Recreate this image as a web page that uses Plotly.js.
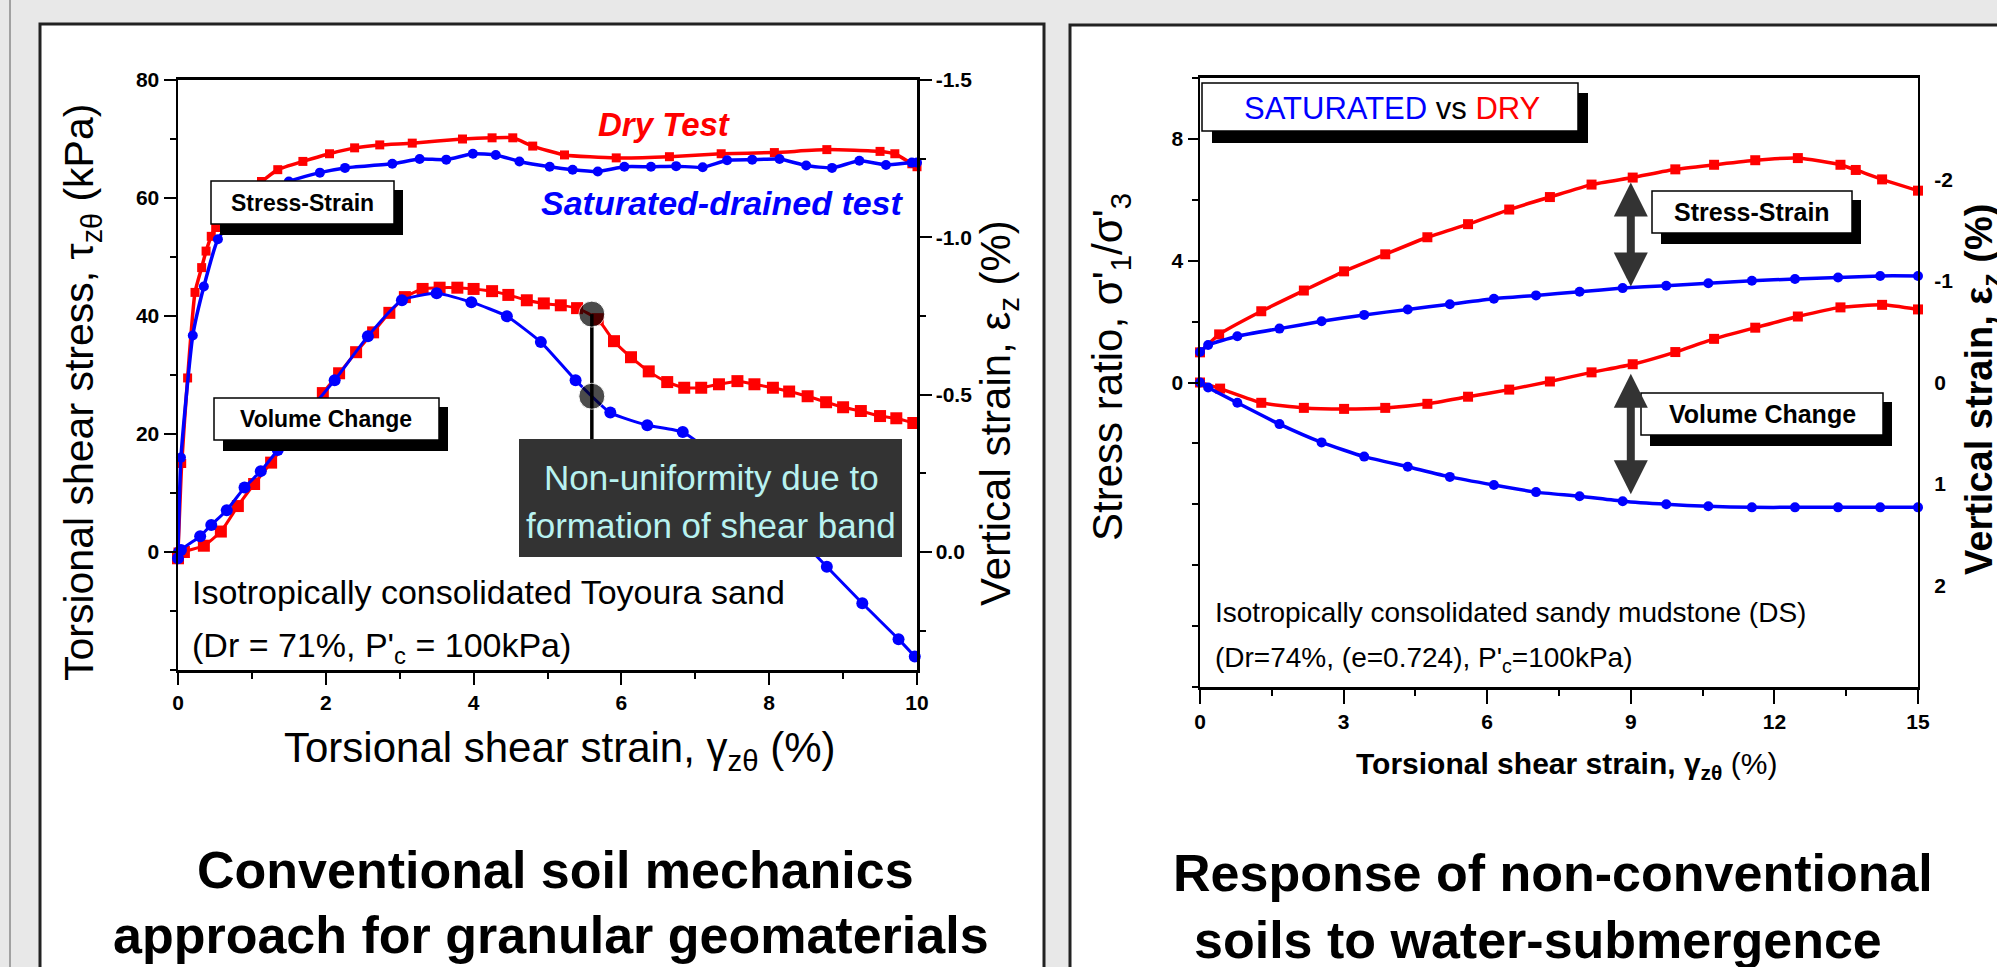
<!DOCTYPE html>
<html>
<head>
<meta charset="utf-8">
<script src="https://cdn.plot.ly/plotly-3.0.1.min.js"></script>
<style>html,body{margin:0;padding:0;background:#e8e8e8;}#chart{width:1997px;height:967px;}</style>
</head>
<body>
<div id="chart"></div>
<script>
// ---------------- DATA ----------------
// Left panel: Toyoura sand, torsional shear (x = shear strain %, tau = kPa)
const dryTauX = [0, 0.05, 0.13, 0.23, 0.32, 0.38, 0.45, 0.51, 0.7, 0.9, 1.13, 1.35, 1.69, 2.05, 2.39, 2.73, 3.17, 3.85, 4.25, 4.53, 4.8, 5.23, 5.93, 6.65, 7.35, 8.07, 8.78, 9.5, 9.7, 9.93, 10];
const dryTau  = [0, 15, 29.5, 44, 48.2, 51, 53.5, 55, 58.5, 61, 62.8, 64.8, 66.2, 67.5, 68.5, 69, 69.3, 70, 70.2, 70.2, 68.8, 67.3, 66.8, 67.0, 67.5, 67.7, 68.2, 67.9, 67.5, 65.8, 65.3];
const satTauX = [0, 0.04, 0.2, 0.35, 0.54, 0.75, 1.0, 1.25, 1.5, 1.92, 2.26, 2.9, 3.27, 3.63, 3.99, 4.3, 4.62, 5.03, 5.34, 5.68, 6.04, 6.4, 6.74, 7.1, 7.43, 7.77, 8.14, 8.5, 8.85, 9.22, 9.58, 9.93, 10];
const satTau  = [0, 16, 36.7, 45, 53, 56.5, 59.5, 61.5, 62.8, 64.3, 65.1, 65.8, 66.6, 66.5, 67.5, 67.3, 66.2, 65.3, 64.8, 64.5, 65.3, 65.3, 65.4, 65.2, 66.4, 66.5, 66.6, 65.5, 65.1, 66.3, 65.6, 66.0, 66.0];
// Left panel: vertical strain (%)
const dryEzX = [0, 0.08, 0.35, 0.58, 0.81, 1.03, 1.26, 1.5, 1.75, 1.96, 2.18, 2.41, 2.64, 2.86, 3.07, 3.31, 3.54, 3.78, 4.0, 4.25, 4.47, 4.72, 4.95, 5.18, 5.4, 5.68, 5.9, 6.13, 6.37, 6.62, 6.85, 7.08, 7.32, 7.57, 7.8, 8.05, 8.27, 8.52, 8.77, 9.0, 9.24, 9.5, 9.72, 9.95];
const dryEz  = [0.02, 0, -0.02, -0.065, -0.146, -0.216, -0.284, -0.36, -0.435, -0.505, -0.568, -0.635, -0.698, -0.76, -0.81, -0.836, -0.84, -0.84, -0.836, -0.829, -0.817, -0.8, -0.79, -0.784, -0.775, -0.74, -0.67, -0.619, -0.574, -0.54, -0.522, -0.522, -0.533, -0.543, -0.533, -0.522, -0.51, -0.495, -0.476, -0.46, -0.448, -0.432, -0.425, -0.41];
const satEzX = [0, 0.04, 0.3, 0.45, 0.66, 0.9, 1.12, 1.35, 1.6, 1.85, 2.12, 2.57, 3.03, 3.5, 3.97, 4.45, 4.91, 5.38, 5.85, 6.35, 6.83, 7.3, 7.8, 8.3, 8.78, 9.26, 9.75, 9.97];
const satEz  = [0.02, -0.006, -0.05, -0.086, -0.133, -0.205, -0.257, -0.324, -0.4, -0.47, -0.546, -0.686, -0.8, -0.822, -0.794, -0.749, -0.667, -0.546, -0.443, -0.403, -0.381, -0.3, -0.18, -0.07, 0.047, 0.163, 0.277, 0.332];
// Shear-band indicator points (x %, vertical strain %)
const bandX  = [5.6, 5.6, 5.6];
const bandEz = [-0.756, -0.495, -0.30];

// Right panel: sandy mudstone
const dryRatioX = [0, 0.4, 1.28, 2.17, 3.01, 3.87, 4.75, 5.6, 6.46, 7.31, 8.18, 9.04, 9.93, 10.74, 11.6, 12.49, 13.38, 13.7, 14.25, 15];
const dryRatio  = [0.99, 1.58, 2.34, 3.02, 3.65, 4.21, 4.77, 5.2, 5.68, 6.09, 6.5, 6.73, 7.0, 7.15, 7.3, 7.37, 7.15, 6.98, 6.67, 6.3];
const satRatioX = [0, 0.17, 0.78, 1.66, 2.54, 3.43, 4.34, 5.22, 6.14, 7.02, 7.93, 8.83, 9.74, 10.62, 11.53, 12.43, 13.33, 14.21, 15];
const satRatio  = [1.0, 1.23, 1.52, 1.77, 2.01, 2.22, 2.4, 2.57, 2.75, 2.86, 2.98, 3.1, 3.18, 3.26, 3.34, 3.4, 3.45, 3.5, 3.5];
const dryVzX = [0, 0.42, 1.28, 2.17, 3.01, 3.87, 4.75, 5.6, 6.46, 7.31, 8.18, 9.04, 9.93, 10.74, 11.6, 12.49, 13.38, 14.25, 15];
const dryVz  = [0, 0.06, 0.2, 0.25, 0.26, 0.25, 0.21, 0.14, 0.07, -0.01, -0.1, -0.18, -0.3, -0.43, -0.54, -0.65, -0.74, -0.765, -0.72];
const satVzX = [0, 0.17, 0.78, 1.66, 2.54, 3.43, 4.34, 5.22, 6.14, 7.02, 7.93, 8.83, 9.74, 10.62, 11.53, 12.43, 13.33, 14.21, 15];
const satVz  = [0, 0.05, 0.2, 0.41, 0.59, 0.73, 0.83, 0.93, 1.01, 1.08, 1.12, 1.17, 1.2, 1.22, 1.23, 1.23, 1.23, 1.23, 1.23];
// Arrow endpoints (x %, values)
const gapArrowX = [9, 9];
const gapRatio  = [3.15, 6.62];
const gapVz     = [1.1, -0.1];

// Tick labels
const leftXTicks = [0, 2, 4, 6, 8, 10];
const leftTauTicks = [0, 20, 40, 60, 80];
const leftEzTickVals = [-1.5, -1.0, -0.5, 0];
const leftEzTickText = ['-1.5', '-1.0', '-0.5', '0.0'];
const rightXTicks = [0, 3, 6, 9, 12, 15];
const rightRatioTicks = [0, 4, 8];
const rightEzTickVals = [-2, -1, 0, 1, 2];
const rightEzTickText = ['-2', '-1', '0', '1', '2'];

// ---------------- STYLE ----------------
const W = 1997, H = 967;
const F = 'Liberation Sans, Arial, Helvetica, sans-serif';
const RED = '#ff0000', BLUE = '#0000ff';
const px = v => v / W;
const py = v => 1 - v / H;

function curve(x, y, xa, ya, color, symbol, msize, lw) {
  return {x, y, xaxis: xa, yaxis: ya, type: 'scatter', mode: 'lines+markers', cliponaxis: false,
    line: {color, width: lw, shape: 'spline', smoothing: 0.5},
    marker: {color, symbol, size: msize}, hoverinfo: 'skip'};
}

const data = [
  curve(dryTauX, dryTau, 'x', 'y', RED, 'square', 9, 3.5),
  curve(satTauX, satTau, 'x', 'y', BLUE, 'circle', 10, 3.5),
  curve(dryEzX, dryEz, 'x', 'y2', RED, 'square', 12, 3),
  curve(satEzX, satEz, 'x', 'y2', BLUE, 'circle', 12, 3),
  {x: bandX, y: bandEz, xaxis: 'x', yaxis: 'y2', type: 'scatter', mode: 'lines+markers', cliponaxis: false,
   line: {color: '#000', width: 3.5}, marker: {color: '#000', size: [26, 26, 0]}, hoverinfo: 'skip'},
  curve(dryRatioX, dryRatio, 'x2', 'y3', RED, 'square', 10, 3.5),
  curve(satRatioX, satRatio, 'x2', 'y3', BLUE, 'circle', 10, 3.5),
  curve(dryVzX, dryVz, 'x2', 'y4', RED, 'square', 10, 3.5),
  curve(satVzX, satVz, 'x2', 'y4', BLUE, 'circle', 10, 3.5)
];

const tickFont = {family: F, size: 21, color: '#000', weight: 'bold'};
function ax(extra) {
  return Object.assign({showgrid: false, zeroline: false, showline: true, linecolor: '#000', linewidth: 2.5,
    ticks: 'outside', ticklen: 12, tickwidth: 2, tickcolor: '#000', tickfont: tickFont, fixedrange: true}, extra);
}
const minorT = d => ({dtick: d, tick0: 0, ticks: 'outside', ticklen: 6, tickwidth: 2, tickcolor: '#000'});

function rect(x0, y0, x1, y1, fill, lc, lw, layer) {
  return {type: 'rect', xref: 'paper', yref: 'paper', x0: px(x0), x1: px(x1), y0: py(y0), y1: py(y1),
    fillcolor: fill, line: {color: lc, width: lw}, layer: layer || 'above'};
}
function box(x0, y0, x1, y1, off) {
  return [rect(x0 + off, y0 + off, x1 + off, y1 + off + 2, '#000', '#000', 0),
          rect(x0, y0, x1, y1, '#fff', '#000', 1.5)];
}
function ann(text, x, y, size, o) {
  return Object.assign({xref: 'paper', yref: 'paper', x: px(x), y: py(y), text, showarrow: false,
    xanchor: 'center', yanchor: 'middle', font: {family: F, size, color: '#000'}}, o || {});
}

const shapes = [
  {type: 'line', xref: 'paper', yref: 'paper', x0: px(10), x1: px(10), y0: 0, y1: 1, line: {color: '#8a8a8a', width: 1.5}, layer: 'below'},
  rect(40, 24, 1044, 990, '#fff', '#222', 3, 'below'),
  rect(1070, 25, 2030, 990, '#fff', '#222', 3, 'below'),
  ...box(211, 181, 394, 224, 9),
  ...box(214, 398, 439, 440, 9),
  rect(519, 439, 902, 557, '#333333', '#333333', 0),
  ...box(1202, 83, 1578, 131, 10),
  ...box(1652, 191, 1852, 233, 9),
  ...box(1641, 393, 1883, 435, 9)
];

function arrow(xa, ya, x, y0, y1) {
  return {xref: xa, yref: ya, axref: xa, ayref: ya, x: x, y: y0, ax: x, ay: y1, text: '', showarrow: true,
    arrowhead: 2, startarrowhead: 2, arrowside: 'end+start', arrowsize: 0.85, startarrowsize: 0.85,
    arrowwidth: 8, arrowcolor: '#333333'};
}

const annotations = [
  // left panel
  ann('<i><b>Dry Test</b></i>', 664, 125, 33, {font: {family: F, size: 33, color: RED}}),
  ann('<i><b>Saturated-drained test</b></i>', 722, 203, 34, {font: {family: F, size: 34, color: BLUE}}),
  ann('<b>Stress-Strain</b>', 302, 203, 23),
  ann('<b>Volume Change</b>', 326, 419, 23),
  ann('Non-uniformity due to', 711, 477, 35, {font: {family: F, size: 35, color: '#b8f2f0'}}),
  ann('formation of shear band', 711, 525, 35, {font: {family: F, size: 35, color: '#b8f2f0'}}),
  ann('Isotropically consolidated Toyoura sand', 190, 592, 34, {xanchor: 'left'}),
  ann("(Dr = 71%, P'<sub>c</sub> = 100kPa)", 190, 647, 34, {xanchor: 'left'}),
  ann('Torsional shear stress, τ<sub>zθ</sub> (kPa)', 82, 393, 41, {textangle: -90}),
  ann('Vertical strain, ε<sub>z</sub> (%)', 998, 413, 42, {textangle: -90}),
  ann('Torsional shear strain, γ<sub>zθ</sub> (%)', 560, 750, 42),
  ann('<b>Conventional soil mechanics</b>', 555, 870, 52),
  ann('<b>approach for granular geomaterials</b>', 551, 935, 52),
  // right panel
  ann('<span style="color:#0000ff">SATURATED</span> vs <span style="color:#ff0000">DRY</span>', 1392, 108, 31),
  ann('<b>Stress-Strain</b>', 1752, 212, 25),
  ann('<b>Volume Change</b>', 1762, 414, 25),
  ann('Isotropically consolidated sandy mudstone (DS)', 1213, 612, 28, {xanchor: 'left'}),
  ann("(Dr=74%, (e=0.724), P'<sub>c</sub>=100kPa)", 1213, 659, 28, {xanchor: 'left'}),
  ann("Stress ratio, σ'<sub>1</sub>/σ'<sub>3</sub>", 1110, 367, 42, {textangle: -90}),
  ann('<b>Vertical strain, ε<sub>z</sub> (%)</b>', 1982, 390, 38, {textangle: -90}),
  ann('<b>Torsional shear strain, γ<sub>zθ</sub></b> (%)', 1566, 765, 30),
  ann('<b>Response of non-conventional</b>', 1553, 873, 52),
  ann('<b>soils to water-submergence</b>', 1538, 940, 52),
  arrow('x2', 'y3', gapArrowX[0], gapRatio[0], gapRatio[1]),
  arrow('x2', 'y4', gapArrowX[1], gapVz[0], gapVz[1])
];

const layout = {
  width: W, height: H, margin: {l: 0, r: 0, t: 0, b: 0}, autosize: false,
  paper_bgcolor: '#e8e8e8', plot_bgcolor: '#ffffff', showlegend: false,
  font: {family: F, color: '#000'},
  xaxis: ax({domain: [px(178), px(917)], range: [0, 10], anchor: 'y', tickvals: leftXTicks, mirror: true, linewidth: 3, minor: minorT(1)}),
  yaxis: ax({domain: [py(670), py(80)], range: [-20, 80], anchor: 'x', tickvals: leftTauTicks, minor: minorT(10)}),
  yaxis2: ax({overlaying: 'y', side: 'right', anchor: 'x', range: [0.375, -1.5], tickvals: leftEzTickVals, ticktext: leftEzTickText, minor: minorT(0.25)}),
  xaxis2: ax({domain: [px(1200), px(1918)], range: [0, 15], anchor: 'y3', tickvals: rightXTicks, mirror: true, linewidth: 3, ticklen: 14, minor: minorT(1.5)}),
  yaxis3: ax({domain: [py(687), py(78)], range: [-10, 10], anchor: 'x2', tickvals: rightRatioTicks, ticklen: 10, minor: minorT(2)}),
  yaxis4: ax({overlaying: 'y3', side: 'right', anchor: 'x2', range: [3, -3], tickvals: rightEzTickVals, ticktext: rightEzTickText, ticks: '', ticklabelstandoff: 10, linewidth: 2}),
  shapes, annotations
};

Plotly.newPlot('chart', data, layout, {staticPlot: true, displayModeBar: false});
</script>
</body>
</html>
